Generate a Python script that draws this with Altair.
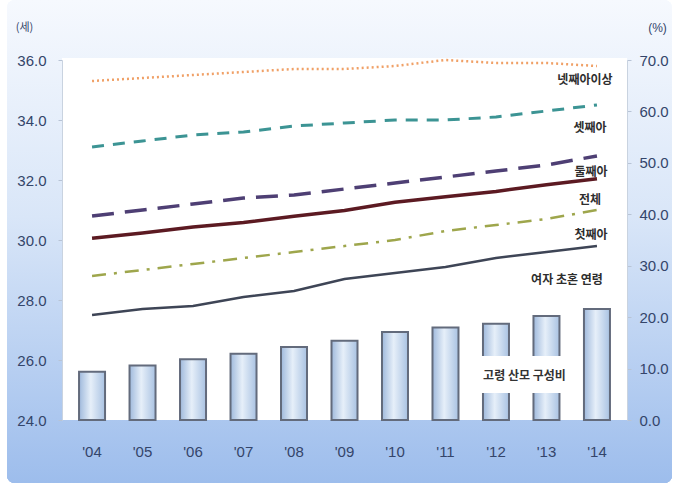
import altair as alt
import pandas as pd

years = ["'04", "'05", "'06", "'07", "'08", "'09", "'10", "'11", "'12", "'13", "'14"]
fourth_plus = [35.3, 35.4, 35.5, 35.6, 35.7, 35.7, 35.8, 36.0, 35.9, 35.9, 35.8]
third = [33.1, 33.3, 33.5, 33.6, 33.8, 33.9, 34.0, 34.0, 34.1, 34.3, 34.5]
second = [30.8, 31.0, 31.2, 31.4, 31.5, 31.7, 31.9, 32.1, 32.3, 32.5, 32.8]
total = [30.06, 30.23, 30.43, 30.58, 30.79, 30.98, 31.26, 31.44, 31.62, 31.84, 32.04]
first = [28.8, 29.0, 29.2, 29.4, 29.6, 29.8, 30.0, 30.3, 30.5, 30.7, 31.0]
women_marriage = [27.5, 27.7, 27.8, 28.1, 28.3, 28.7, 28.9, 29.1, 29.4, 29.6, 29.8]
older_mother_ratio = [9.4, 10.6, 11.8, 12.9, 14.2, 15.4, 17.1, 18.0, 18.7, 20.2, 21.6]

left_ticks = [24, 26, 28, 30, 32, 34, 36]
right_ticks = [0, 10, 20, 30, 40, 50, 60, 70]

df = pd.DataFrame({
    "year": years,
    "fourth": fourth_plus,
    "third": third,
    "second": second,
    "total": total,
    "first": first,
    "women": women_marriage,
    "ratio": older_mother_ratio,
})

W, H = 565, 360
NUM_FONT = "Liberation Sans Narrow, Liberation Sans, sans-serif"
KR_FONT = "Noto Sans CJK KR"
AX_COLOR = "#34456a"

xenc = alt.X("year:N", sort=years,
             scale=alt.Scale(paddingInner=0, paddingOuter=0.095),
             axis=alt.Axis(title=None, labelAngle=0, labelFont=NUM_FONT, labelFontSize=15,
                           labelColor=AX_COLOR, labelPadding=24, ticks=False, domain=False,
                           zindex=2))

# decorative panel + white plot area
panel = alt.Chart(df).mark_rect(
    cornerRadius=8,
    fill={"x1": 0, "y1": 0, "x2": 0, "y2": 1, "gradient": "linear",
          "stops": [{"offset": 0, "color": "#f6f9fe"}, {"offset": 0.45, "color": "#d9e6f8"},
                    {"offset": 1, "color": "#9dbdec"}]}
).encode(x=alt.value(-55), x2=alt.value(W + 45), y=alt.value(-60), y2=alt.value(H + 63))

plot_bg = alt.Chart(df).mark_rect(fill="white").encode(
    x=alt.value(0), x2=alt.value(W), y=alt.value(-2), y2=alt.value(H))

bar_fill = {"x1": 0, "y1": 0, "x2": 1, "y2": 0, "gradient": "linear",
            "stops": [{"offset": 0, "color": "#9fb9dc"}, {"offset": 0.45, "color": "#e6eff9"},
                      {"offset": 1, "color": "#a9c2e2"}]}

right_axis = alt.Axis(orient="right", values=right_ticks, format=".1f", grid=False,
                      labelFont=NUM_FONT, labelFontSize=15, labelColor=AX_COLOR,
                      tickColor="#b8c4d6", tickSize=4, domainColor="#c9d3e0",
                      labelPadding=8, title="(%)", titleAngle=0, titleFont=NUM_FONT,
                      titleFontSize=12, titleFontWeight="normal", titleColor=AX_COLOR,
                      titleX=30, titleY=-26, titleAlign="center", zindex=2)

bars = alt.Chart(df).mark_bar(size=26, fill=bar_fill, stroke="#636b7c", strokeWidth=2).encode(
    x=xenc,
    y=alt.Y("ratio:Q", scale=alt.Scale(domain=[0, 70], nice=False), axis=right_axis),
)

box = alt.Chart(df).mark_rect(fill="white").encode(
    x=alt.value(403), x2=alt.value(518), y=alt.value(296), y2=alt.value(333))

box_text = alt.Chart(df).transform_filter(alt.datum.year == "'13").mark_text(
    text="고령 산모 구성비", font=KR_FONT, fontSize=12, fontWeight="bold", color="#333333",
    dx=-22, dy=60).encode(x=alt.X("year:N", sort=years),
                          y=alt.Y("ratio:Q", axis=right_axis))

yscale = alt.Scale(domain=[24, 36], nice=False)
left_axis = alt.Axis(orient="left", values=left_ticks, format=".1f", grid=False,
                     labelFont=NUM_FONT, labelFontSize=15, labelColor=AX_COLOR,
                     tickColor="#b8c4d6", tickSize=4, domainColor="#c9d3e0", labelPadding=12,
                     title="(세)", titleAngle=0, titleFont=KR_FONT, titleFontSize=11,
                     titleFontWeight="normal", titleColor=AX_COLOR, titleX=-38, titleY=-28,
                     titleAlign="center", zindex=2)

series = [
    ("fourth", "#f0a066", [2, 3], 2.5, "넷째아이상", -12, 14),
    ("third", "#3c9494", [12, 9], 3, "셋째아", -7, 23),
    ("second", "#4e3f74", [22, 11], 3.5, "둘째아", -6, 16),
    ("total", "#5c1a22", None, 3.5, "전체", -7, 21),
    ("first", "#9ea64c", [14, 8, 3, 8], 2.5, "첫째아", -6, 25),
    ("women", "#3e4556", None, 2.5, "여자 초혼 연령", -30, 34),
]

line_layers = []
text_layers = []
for i, (field, color, dash, sw, label, dx, dy) in enumerate(series):
    mk = dict(color=color, strokeWidth=sw, strokeCap="butt")
    if dash:
        mk["strokeDash"] = dash
    line_layers.append(alt.Chart(df).mark_line(**mk).encode(
        x=alt.X("year:N", sort=years),
        y=alt.Y(f"{field}:Q", scale=yscale, axis=left_axis)))
    text_layers.append(alt.Chart(df).transform_filter(alt.datum.year == "'14").mark_text(
        text=label, font=KR_FONT, fontSize=12, fontWeight="bold", color="#2e2e2e", dx=dx, dy=dy
    ).encode(x=alt.X("year:N", sort=years),
             y=alt.Y(f"{field}:Q", scale=yscale, axis=left_axis)))

right_part = alt.layer(panel, plot_bg, bars, box, box_text)
left_part = alt.layer(*line_layers, *text_layers)

chart = alt.layer(right_part, left_part).resolve_scale(y="independent").properties(
    width=W, height=H,
    autosize=alt.AutoSizeParams(type="none"),
    padding={"left": 62, "top": 60, "right": 63, "bottom": 77},
    background="white",
).configure_view(stroke=None, fill=None)

chart.save("out.html", embed_options={"renderer": "svg", "actions": False})
